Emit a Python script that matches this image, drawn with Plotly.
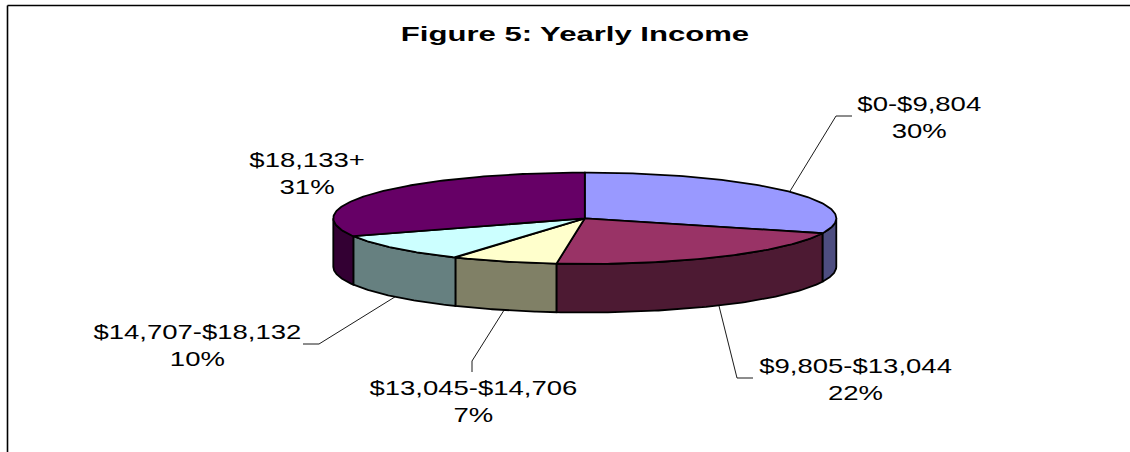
import numpy as np
import plotly.graph_objects as go

categories = ["$0-$9,804", "$9,805-$13,044", "$13,045-$14,706", "$14,707-$18,132", "$18,133+"]
shares = [30.3, 21.5, 6.8, 10.0, 31.4]
pct_labels = ["30%", "22%", "7%", "10%", "31%"]
top_colors = ["#9999FF", "#993366", "#FFFFCC", "#CCFFFF", "#660066"]
side_colors = ["#4D4D80", "#4D1A33", "#808066", "#668080", "#330033"]

# pie geometry (pixels)
CX, CY, RX, RY, DEPTH = 584.8, 218.3, 251.5, 45.7, 48.5
# label centres and leader-line elbows
label_pos = [(919, 117), (855, 379), (473, 401), (197, 345), (307, 173)]
leader_mid = [(836, 116), (737, 378), (472, 361), (319, 344), None]
leader_end = [(852, 116), (753, 378), (472, 372), (303, 344), None]


def pt(theta, dz=0.0):
    return CX + RX * np.sin(theta), CY - RY * np.cos(theta) + dz


edges = 2 * np.pi * np.cumsum([0] + shares) / sum(shares)
fig = go.Figure()

# sides: only the front half of the rim is visible
for i in range(len(shares)):
    a, b = max(edges[i], np.pi / 2), min(edges[i + 1], 3 * np.pi / 2)
    if b <= a:
        continue
    t = np.linspace(a, b, 80)
    x1, y1 = pt(t)
    x2, y2 = pt(t[::-1], DEPTH)
    fig.add_trace(go.Scatter(
        x=np.r_[x1, x2, x1[0]], y=np.r_[y1, y2, y1[0]], mode="lines", fill="toself",
        fillcolor=side_colors[i], line=dict(color="black", width=1.8),
        hoverinfo="skip", showlegend=False))

# top faces
for i in range(len(shares)):
    t = np.linspace(edges[i], edges[i + 1], 120)
    x, y = pt(t)
    fig.add_trace(go.Scatter(
        x=np.r_[CX, x, CX], y=np.r_[CY, y, CY], mode="lines", fill="toself",
        fillcolor=top_colors[i], line=dict(color="black", width=1.8),
        name=categories[i], hoverinfo="name", showlegend=False))

# leader lines start on the rim at the middle of each slice
for i in range(len(shares)):
    if leader_mid[i] is None:
        continue
    m = (edges[i] + edges[i + 1]) / 2
    dz = DEPTH if np.cos(m) < 0 else 0
    x0, y0 = pt(m, dz)
    fig.add_trace(go.Scatter(
        x=[x0, leader_mid[i][0], leader_end[i][0]], y=[y0, leader_mid[i][1], leader_end[i][1]],
        mode="lines", line=dict(color="black", width=0.9), hoverinfo="skip", showlegend=False))

for i in range(len(shares)):
    fig.add_annotation(x=label_pos[i][0], y=label_pos[i][1], xref="x", yref="y",
                       text=f"{categories[i]}<br>{pct_labels[i]}", showarrow=False,
                       align="center", font=dict(family="Liberation Sans", size=21, color="black"))

fig.update_layout(
    width=1130, height=452, margin=dict(l=0, r=0, t=0, b=0),
    paper_bgcolor="white", plot_bgcolor="white", showlegend=False,
    title=dict(text="<b>Figure 5: Yearly Income</b>", x=575 / 1130, xanchor="center",
               y=1 - 34 / 452, yanchor="middle",
               font=dict(family="Liberation Sans", size=20, color="black")),
    xaxis=dict(range=[0, 1130], visible=False, fixedrange=True),
    yaxis=dict(range=[452, 0], visible=False, fixedrange=True),
    shapes=[
        dict(type="line", xref="x", yref="y", x0=7.5, y0=5.5, x1=1130, y1=5.5, line=dict(color="black", width=1.6)),
        dict(type="line", xref="x", yref="y", x0=7.5, y0=5.5, x1=7.5, y1=452, line=dict(color="black", width=1.6)),
    ],
)

post = """
document.body.style.margin = '0';
var s = document.createElement('style');
s.textContent = '.annotation-text {transform-box: fill-box; transform-origin: center; transform: scaleX(1.31);}'
  + '.gtitle {transform-box: fill-box; transform-origin: center; transform: scaleX(1.555);}';
document.head.appendChild(s);
"""
fig.write_html("out.html", post_script=post, config=dict(displayModeBar=False))
